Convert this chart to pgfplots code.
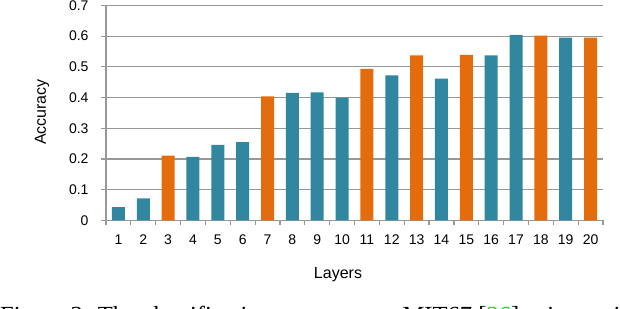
\documentclass[border=0pt]{standalone}
\usepackage{fontspec}
\setmainfont{Liberation Sans}
\newfontfamily\capfont{Liberation Serif}
\usepackage{pgfplots}
\pgfplotsset{compat=1.18}
\definecolor{barteal}{RGB}{49,135,160}
\definecolor{barorange}{RGB}{229,108,12}
\definecolor{gridgray}{RGB}{152,152,152}
\definecolor{citegreen}{RGB}{0,230,0}
\newcommand{\tickfont}{\fontsize{14}{16}\selectfont}
\begin{document}
\begin{tikzpicture}[x=1pt,y=1pt]
\useasboundingbox (0,0) rectangle (620,308);
\clip (0,0) rectangle (620,308);
\begin{axis}[
  at={(106pt,87.6pt)}, anchor=south west,
  scale only axis, width=497pt, height=215pt,
  xmin=0.5, xmax=20.5, ymin=0, ymax=0.7,
  axis x line*=bottom, axis y line*=left,
  axis line style={gridgray, line width=1.2pt},
  ytick={0,0.1,0.2,0.3,0.4,0.5,0.6,0.7},
  yticklabels={0,0.1,0.2,0.3,0.4,0.5,0.6,0.7},
  ymajorgrids, grid style={gridgray, line width=1.2pt},
  tick align=outside, major tick length=5pt,
  tick style={gridgray, line width=1.2pt},
  xtick={0.5,1.5,...,20.5}, xticklabels={},
  extra x ticks={1,2,...,20},
  extra x tick labels={1,2,3,4,5,6,7,8,9,10,11,12,13,14,15,16,17,18,19,20},
  extra x tick style={major tick length=0pt, grid=none,
    xticklabel style={font=\tickfont, yshift=-11pt}},
  /pgf/number format/assume math mode=true,
  yticklabel style={font=\tickfont, xshift=-9pt},
  ybar, bar width=13pt, bar shift=0pt,
  clip=false,
]
\addplot[fill=barteal, draw=none] coordinates {
  (1,0.043) (2,0.072) (4,0.207) (5,0.246) (6,0.255) (8,0.415) (9,0.417)
  (10,0.400) (12,0.472) (14,0.462) (16,0.537) (17,0.604) (19,0.595)};
\addplot[fill=barorange, draw=none] coordinates {
  (3,0.211) (7,0.404) (11,0.493) (13,0.537) (15,0.539) (18,0.602) (20,0.595)};
\end{axis}
\node[font=\fontsize{16}{18}\selectfont] at (338,33) {Layers};
\node[font=\fontsize{16}{18}\selectfont, rotate=90] at (42,196) {Accuracy};
\node[anchor=base west, inner sep=0pt, font=\capfont\fontsize{24.6}{28}\selectfont]
  at (0,-15) {Figure 3: The classification accuracy on MIT67 [\textcolor{citegreen}{26}] using activations};
\end{tikzpicture}
\end{document}
